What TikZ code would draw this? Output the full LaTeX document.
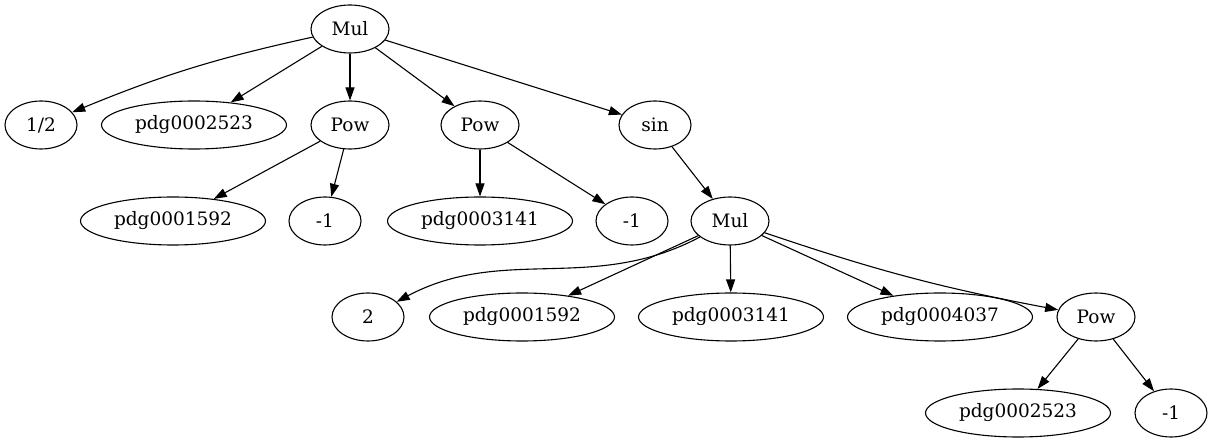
\documentclass[tikz,border=0pt]{standalone}
\usepackage{fontspec}
\setmainfont{DejaVu Serif}
\usetikzlibrary{shapes.geometric,arrows.meta}
\tikzset{
  term/.style={ellipse, draw, line width=1.1pt, inner sep=0pt, minimum height=48pt,
    minimum width=72pt, font=\fontsize{18.5}{22}\selectfont},
  sym/.style={term, minimum width=185pt},
  op/.style={term, minimum width=78pt},
  arr/.style={-{Triangle[length=13pt,width=9pt]}, line width=1.1pt},
}
\begin{document}
\begin{tikzpicture}[x=1pt,y=1pt]
    \useasboundingbox (0,0) rectangle (1213,-443);
    % top level
    \node[op] (mul) at (350,-29) {Mul};
    \node[term] (half) at (41,-125) {1/2};
    \node[sym] (pa) at (194,-125) {pdg0002523};
    \node[op] (powa) at (350,-125) {Pow};
    \node[op] (powb) at (480,-125) {Pow};
    \node[term] (sin) at (655,-125) {sin};
    % powers and sin argument
    \node[sym] (pb) at (173,-221) {pdg0001592};
    \node[term] (ma) at (325,-221) {-1};
    \node[sym] (pc) at (480,-221) {pdg0003141};
    \node[term] (mb) at (632,-221) {-1};
    \node[op] (mulb) at (730,-221) {Mul};
    % inner product
    \node[term] (two) at (368,-317) {2};
    \node[sym] (pd) at (522,-317) {pdg0001592};
    \node[sym] (pe) at (731,-317) {pdg0003141};
    \node[sym] (pf) at (940,-317) {pdg0004037};
    \node[op] (powc) at (1096,-317) {Pow};
    \node[sym] (pg) at (1018,-413) {pdg0002523};
    \node[term] (mc) at (1171,-413) {-1};

    \draw[arr] (mul) to[bend right=5] (half);
    \foreach \t in {pa, powa, powb, sin}
    \draw[arr] (mul) -- (\t);
    \draw[arr] (powa) -- (pb);
    \draw[arr] (powa) -- (ma);
    \draw[arr] (powb) -- (pc);
    \draw[arr] (powb) -- (mb);
    \draw[arr] (sin) -- (mulb);
    \draw[arr] (mulb) to[out=208,in=28] (two);
    \foreach \t in {pd, pe, pf}
    \draw[arr] (mulb) -- (\t);
    \draw[arr] (mulb) to[bend right=4] (powc);
    \draw[arr] (powc) -- (pg);
    \draw[arr] (powc) -- (mc);
\end{tikzpicture}
\end{document}
